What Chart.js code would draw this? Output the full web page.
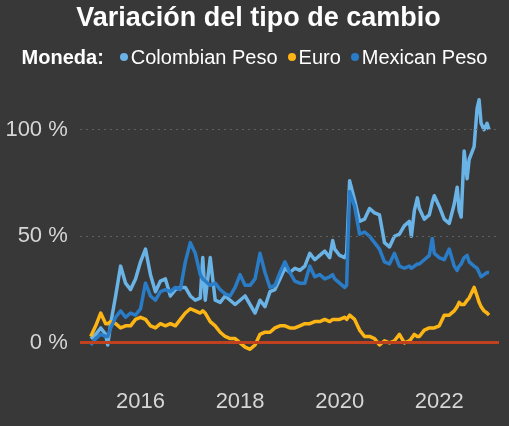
<!DOCTYPE html>
<html lang="es">
<head>
<meta charset="utf-8">
<script src="https://cdn.jsdelivr.net/npm/chart.js@4.4.1/dist/chart.umd.min.js"></script>
<style>
  body { margin: 0; background: #383838; }
  #wrap { position: relative; width: 509px; height: 426px; background: #383838; font-family: "Liberation Sans", Arial, sans-serif; }
  #chart { position: absolute; left: 0; top: 0; }
  #title { position: absolute; left: 0; top: 4px; width: 509px; box-sizing: border-box; padding-left: 8px;
           text-align: center; font-weight: bold; font-size: 27px; line-height: 27px; color: #fff; }
  #legend { position: absolute; left: 0; top: 47px; width: 509px; display: flex; justify-content: center;
            align-items: center; font-size: 20px; line-height: 20px; color: #fff; }
  #legend b { margin-right: 16px; }
  .item { display: flex; align-items: center; margin-right: 10px; }
  .item:last-child { margin-right: 0; }
  .dot { width: 8px; height: 8px; border-radius: 50%; margin-right: 3px; }
</style>
</head>
<body>
<div id="wrap">
  <canvas id="chart" width="509" height="426"></canvas>
  <div id="title">Variación del tipo de cambio</div>
  <div id="legend"><b>Moneda:</b></div>
</div>
<script>
// fechas en años decimales
let years = [
  2015.00, 2015.10, 2015.20, 2015.30, 2015.34, 2015.40, 2015.50, 2015.60, 2015.70, 2015.80, 2015.90,
  2016.00, 2016.10, 2016.20, 2016.30, 2016.40, 2016.50, 2016.60, 2016.70, 2016.80, 2016.90,
  2017.00, 2017.10, 2017.20, 2017.25, 2017.30, 2017.40, 2017.50, 2017.60, 2017.70, 2017.80, 2017.90,
  2018.00, 2018.10, 2018.20, 2018.30, 2018.40, 2018.50, 2018.60, 2018.70, 2018.80, 2018.90,
  2019.00, 2019.10, 2019.20, 2019.30, 2019.40, 2019.50, 2019.60, 2019.70, 2019.80, 2019.86, 2019.90,
  2020.00, 2020.10, 2020.14, 2020.20, 2020.30, 2020.40, 2020.50, 2020.60, 2020.70, 2020.80, 2020.90,
  2021.00, 2021.10, 2021.20, 2021.30, 2021.40, 2021.44, 2021.50, 2021.56, 2021.60, 2021.70, 2021.80, 2021.86, 2021.90,
  2022.00, 2022.10, 2022.20, 2022.30, 2022.36, 2022.40, 2022.44, 2022.50, 2022.56, 2022.60, 2022.70, 2022.76, 2022.80, 2022.84, 2022.90, 2022.96,
  2023.00
];

let colombianPeso = [
  2, 4, 7, 4, -1, 9, 22, 36, 28, 25, 30,
  38, 44, 32, 24, 29, 30, 22, 25, 26, 26,
  22, 20, 21, 40, 20, 40, 20, 19, 22, 20, 18,
  20, 22, 18, 14, 20, 17, 24, 25, 30, 35,
  33, 35, 34, 36, 42, 39, 41, 43, 40, 48, 44,
  41, 40, 42, 76, 67, 57, 58, 63, 61, 60, 47,
  45, 50, 51, 55, 57, 50, 62, 68, 63, 58, 60, 66, 69,
  64, 58, 56, 65, 73, 62, 59, 90, 77, 86, 92, 110, 114, 103, 100, 103,
  100
];

let euro = [
  3, 8, 14, 9, 9, 10, 9, 7, 8, 8, 11,
  12, 11, 8, 7, 9, 8, 9, 8, 11, 14,
  16, 15, 14, 15, 14, 10, 8, 5, 3, 2, 2,
  0, -2, -3, -1, 4, 5, 5, 7, 8, 8,
  7, 7, 8, 9, 9, 10, 10, 11, 10, 11, 11,
  11, 12, 11, 13, 11, 6, 3, 3, 2, -1, 1,
  0, 1, 4, 0, 1, 2, 4, 3, 3, 6, 7, 7, 7,
  8, 13, 13, 15, 17, 19, 18, 18, 20, 21, 26, 22, 19, 17, 15, 14,
  13
];

let mexicanPeso = [
  -1, 2, 4, 3, 3, 7, 12, 15, 12, 14, 13,
  16, 28, 22, 20, 24, 25, 24, 26, 25, 38,
  47, 42, 32, 30, 29, 27, 28, 25, 23, 22, 26,
  32, 27, 27, 30, 42, 33, 26, 27, 33, 38,
  33, 29, 28, 28, 36, 31, 32, 30, 31, 32, 30,
  28, 26, 27, 71, 64, 51, 52, 50, 47, 44, 38,
  37, 42, 36, 35, 36, 35, 36, 37, 37, 39, 41, 49, 42,
  40, 39, 44, 36, 34, 36, 37, 40, 41, 38, 36, 35, 33, 31, 32, 33,
  33
];

let xTicks = [2016, 2018, 2020, 2022];
let yTicks = [0, 50, 100];

let seriesNames = ["Colombian Peso", "Euro", "Mexican Peso"];
let seriesColors = ["#6ab3e6", "#fcb514", "#2a7cc6"];
let seriesData = [colombianPeso, euro, mexicanPeso];
let drawOrder = [2, 1, 0];

const fontFamily = '"Liberation Sans", Arial, sans-serif';
const tickColor = "#d6d6d6";
const zeroColor = "#c0411e";

// leyenda
let legend = document.getElementById("legend");
seriesNames.forEach((name, i) => {
  let item = document.createElement("span");
  item.className = "item";
  item.innerHTML = '<span class="dot" style="background:' + seriesColors[i] + '"></span>' + name;
  legend.appendChild(item);
});

const ctx = document.getElementById("chart");

let isZero = (c) => c.tick && c.tick.value === 0;

let chart = new Chart(ctx, {
  type: "line",
  data: {
    datasets: seriesNames.map((name, i) => ({
      label: name,
      data: years.map((t, j) => ({ x: t, y: seriesData[i][j] })),
      borderColor: seriesColors[i],
      backgroundColor: seriesColors[i],
      order: drawOrder[i]
    }))
  },
  options: {
    responsive: false,
    animation: false,
    // the axes take a bit more room than expected, so padding is pulled back
    layout: { padding: { top: 87, left: -6.6, right: 10, bottom: -14.6 } },
    plugins: {
      legend: { display: false },
      title: { display: false },
      tooltip: { enabled: false }
    },
    elements: {
      point: { radius: 0 },
      line: { borderWidth: 3.5, tension: 0, borderJoinStyle: "round" }
    },
    scales: {
      x: {
        type: "linear",
        min: 2014.78,
        max: 2023.2,
        afterBuildTicks: (axis) => { axis.ticks = xTicks.map(v => ({ value: v })); },
        grid: { display: false, drawTicks: false },
        border: { display: false },
        ticks: {
          padding: 25,
          color: tickColor,
          maxRotation: 0,
          autoSkip: false,
          font: { family: fontFamily, size: 22 },
          callback: (v) => String(v)
        }
      },
      y: {
        min: -10,
        max: 120,
        afterBuildTicks: (axis) => { axis.ticks = yTicks.map(v => ({ value: v })); },
        grid: {
          z: 1,
          drawTicks: false,
          color: (c) => isZero(c) ? zeroColor : "#606060",
          lineWidth: (c) => isZero(c) ? 3 : 1
        },
        border: {
          display: false,
          dash: (c) => isZero(c) ? [] : [2, 4]
        },
        ticks: {
          padding: 12,
          color: tickColor,
          font: { family: fontFamily, size: 22 },
          callback: (v) => v + " %"
        }
      }
    }
  }
});
</script>
</body>
</html>
